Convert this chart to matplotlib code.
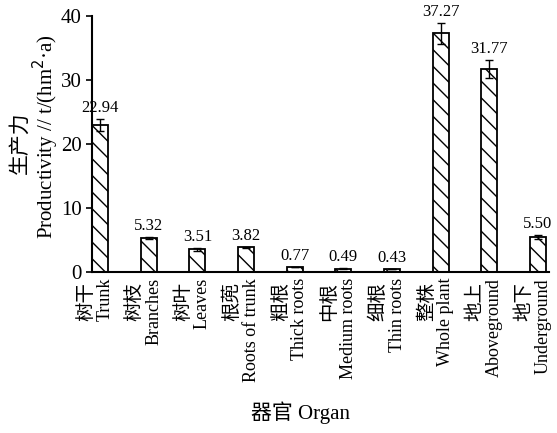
import matplotlib
matplotlib.use("Agg")
import matplotlib.pyplot as plt

plt.rcParams['font.family'] = ['Liberation Serif', 'Noto Sans CJK SC']
plt.rcParams['hatch.linewidth'] = 1.0

organs_cn = ["树干", "树枝", "树叶", "根蔸", "粗根", "中根", "细根", "整株", "地上", "地下"]
organs_en = ["Trunk", "Branches", "Leaves", "Roots of trunk", "Thick roots",
             "Medium roots", "Thin roots", "Whole plant", "Aboveground", "Underground"]
values = [22.94, 5.32, 3.51, 3.82, 0.77, 0.49, 0.43, 37.27, 31.77, 5.50]
errors = [0.9, 0.2, 0.3, 0.15, 0.05, 0.05, 0.05, 1.7, 1.4, 0.3]
positions = list(range(len(values)))

fig = plt.figure(figsize=(5.57, 4.33), dpi=100)
ax = fig.add_axes([0.165, 0.372, 0.821, 0.591])

ax.bar(positions, values, width=0.33, color="white", edgecolor="black",
       linewidth=1.3, hatch="\\\\")
ax.errorbar(positions, values, yerr=errors, fmt="none", ecolor="black",
            elinewidth=1.0, capsize=3, capthick=1.0)

for x, v, e in zip(positions, values, errors):
    ax.annotate(f"{v:.2f}", xy=(x, v + e), xytext=(0, 3), textcoords="offset pixels",
                ha="center", va="bottom", fontsize=12)

ax.set_xlim(-0.17, 9.23)
ax.set_ylim(0, 40)
ax.set_yticks([0, 10, 20, 30, 40])
ax.tick_params(axis="y", labelsize=15, length=4, width=1.2, direction="out")
ax.set_xticks(positions)
ax.set_xticklabels([])
ax.tick_params(axis="x", length=0)
for s in ["top", "right"]:
    ax.spines[s].set_visible(False)
for s in ["left", "bottom"]:
    ax.spines[s].set_linewidth(1.5)

for x, cn, en in zip(positions, organs_cn, organs_en):
    ax.annotate(cn, xy=(x, 0), xycoords=("data", "axes fraction"),
                xytext=(-14, -10), textcoords="offset pixels", rotation=90,
                ha="center", va="top", fontsize=14)
    ax.annotate(en, xy=(x, 0), xycoords=("data", "axes fraction"),
                xytext=(5, -6), textcoords="offset pixels", rotation=90,
                ha="center", va="top", fontsize=13)

fig.text(0.54, 0.048, "器官 Organ", ha="center", va="center", fontsize=15)
fig.text(0.038, 0.67, "生产力", rotation=90, ha="center", va="center", fontsize=15)
fig.text(0.082, 0.685, "Productivity // t/(hm$^2$·a)", rotation=90,
         ha="center", va="center", fontsize=15)

fig.savefig("out.png", dpi=100)
